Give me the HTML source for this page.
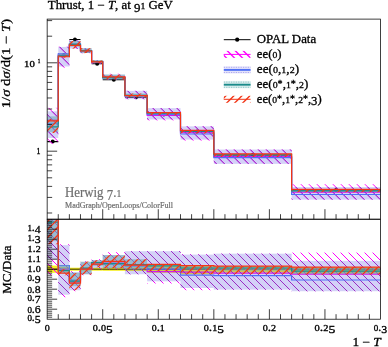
<!DOCTYPE html>
<html><head><meta charset="utf-8"><title>Thrust</title>
<style>html,body{margin:0;padding:0;background:#fff}svg{display:block}</style>
</head><body>
<svg width="388" height="347" viewBox="0 0 388 347">
<defs>
<clipPath id="cm"><rect x="47.15" y="19.1" width="333.35" height="200.1"/></clipPath>
<clipPath id="cr"><rect x="47.15" y="219.2" width="333.35" height="100"/></clipPath>
<pattern id="hmM" patternUnits="userSpaceOnUse" x="0" y="0" width="8" height="8"><path d="M-13.3 -2 L-1.3 10 M-5.3 -2 L6.7 10 M2.7 -2 L14.7 10 M10.7 -2 L22.7 10 M18.7 -2 L30.7 10" stroke="#ff00ff" stroke-width="1.0" fill="none"/></pattern>
<pattern id="hpM" patternUnits="userSpaceOnUse" x="0" y="0" width="8" height="8"><path d="M-13.3 -2 L-1.3 10 M-5.3 -2 L6.7 10 M2.7 -2 L14.7 10 M10.7 -2 L22.7 10 M18.7 -2 L30.7 10" stroke="#9a2ec2" stroke-width="1.0" fill="none"/></pattern>
<pattern id="hpR" patternUnits="userSpaceOnUse" x="0" y="0" width="8" height="8"><path d="M-18 -2 L-6 10 M-10 -2 L2 10 M-2 -2 L10 10 M6 -2 L18 10 M14 -2 L26 10" stroke="#9a2ec2" stroke-width="1.0" fill="none"/></pattern>
<pattern id="hmR" patternUnits="userSpaceOnUse" x="0" y="0" width="8" height="8"><path d="M-18 -2 L-6 10 M-10 -2 L2 10 M-2 -2 L10 10 M6 -2 L18 10 M14 -2 L26 10" stroke="#ff00ff" stroke-width="1.0" fill="none"/></pattern>
<pattern id="hmL" patternUnits="userSpaceOnUse" x="0" y="0" width="8" height="8"><path d="M-17.5 -2 L-5.5 10 M-9.5 -2 L2.5 10 M-1.5 -2 L10.5 10 M6.5 -2 L18.5 10 M14.5 -2 L26.5 10" stroke="#ff00ff" stroke-width="1.4" fill="none"/></pattern>
<pattern id="hrM" patternUnits="userSpaceOnUse" x="0" y="0" width="8" height="8"><path d="M-4 -2 L-16 10 M4 -2 L-8 10 M12 -2 L0 10 M20 -2 L8 10 M28 -2 L16 10" stroke="#f23618" stroke-width="1.25" fill="none"/></pattern>
<pattern id="hrR" patternUnits="userSpaceOnUse" x="0" y="0" width="8" height="8"><path d="M-1 -2 L-13 10 M7 -2 L-5 10 M15 -2 L3 10 M23 -2 L11 10 M31 -2 L19 10" stroke="#f23618" stroke-width="1.25" fill="none"/></pattern>
<pattern id="hrL" patternUnits="userSpaceOnUse" x="0" y="0" width="8" height="8"><path d="M-4.35 -2 L-16.35 10 M3.65 -2 L-8.35 10 M11.65 -2 L-0.35 10 M19.65 -2 L7.65 10 M27.65 -2 L15.65 10" stroke="#f23618" stroke-width="1.4" fill="none"/></pattern>
<filter id="soft" x="0" y="0" width="388" height="347" filterUnits="userSpaceOnUse"><feGaussianBlur stdDeviation="0.35"/></filter>
</defs>
<rect width="388" height="347" fill="#fff"/>
<g filter="url(#soft)">
<g clip-path="url(#cm)"><path d="M47.15 141.6 H58.26" stroke="#000" stroke-width="1.1"/><circle cx="52.71" cy="141.6" r="2"/><path d="M58.26 55.2 H69.37" stroke="#000" stroke-width="1.1"/><circle cx="63.82" cy="55.2" r="2"/><path d="M69.37 39.5 H80.48" stroke="#000" stroke-width="1.1"/><circle cx="74.93" cy="39.5" r="2"/><path d="M80.48 51 H91.6" stroke="#000" stroke-width="1.1"/><circle cx="86.04" cy="51" r="2"/><path d="M91.6 63.8 H102.71" stroke="#000" stroke-width="1.1"/><circle cx="97.15" cy="63.8" r="2"/><path d="M102.71 79.7 H124.93" stroke="#000" stroke-width="1.1"/><circle cx="113.82" cy="79.7" r="2"/><path d="M124.93 97.2 H147.16" stroke="#000" stroke-width="1.1"/><circle cx="136.04" cy="97.2" r="2"/><path d="M147.16 114.5 H180.49" stroke="#000" stroke-width="1.1"/><circle cx="163.82" cy="114.5" r="2"/><path d="M180.49 131.6 H213.83" stroke="#000" stroke-width="1.1"/><circle cx="197.16" cy="131.6" r="2"/><path d="M213.83 155.1 H291.61" stroke="#000" stroke-width="1.1"/><circle cx="252.72" cy="155.1" r="2"/><path d="M291.61 190.1 H380.5" stroke="#000" stroke-width="1.1"/><circle cx="336.05" cy="190.1" r="2"/></g>
<g fill="url(#hmM)" clip-path="url(#cm)"><rect x="47.15" y="107.83" width="11.11" height="36.15"/><rect x="58.26" y="46.63" width="11.11" height="21.18"/><rect x="69.37" y="40.28" width="11.11" height="8.76"/><rect x="80.48" y="48.05" width="11.11" height="5.33"/><rect x="91.6" y="60.14" width="11.11" height="3.66"/><rect x="102.71" y="73.67" width="22.22" height="6.03"/><rect x="124.93" y="90.85" width="22.22" height="8.32"/><rect x="147.16" y="108.15" width="33.34" height="12.28"/><rect x="180.49" y="126.23" width="33.34" height="14.42"/><rect x="213.83" y="149.57" width="77.78" height="14.34"/><rect x="291.61" y="184.2" width="88.89" height="15.43"/></g>
<path d="M47.15 120.12 L58.26 120.12 L58.26 55.2 L69.37 55.2 L69.37 44.85 L80.48 44.85 L80.48 51 L91.6 51 L91.6 61.93 L102.71 61.93 L102.71 77.1 L124.93 77.1 L124.93 95.69 L147.16 95.69 L147.16 115.43 L180.49 115.43 L180.49 132.77 L213.83 132.77 L213.83 156.67 L291.61 156.67 L291.61 192.07 L380.5 192.07" fill="none" stroke="#ff00ff" stroke-width="1.2" stroke-linejoin="miter" clip-path="url(#cm)"/>
<g fill="rgba(95,85,225,0.27)" clip-path="url(#cm)"><rect x="47.15" y="111.33" width="11.11" height="26.61"/><rect x="58.26" y="46.94" width="11.11" height="19.56"/><rect x="69.37" y="40.67" width="11.11" height="7.88"/><rect x="80.48" y="48.4" width="11.11" height="4.57"/><rect x="91.6" y="60.49" width="11.11" height="2.93"/><rect x="102.71" y="74.67" width="22.22" height="4.65"/><rect x="124.93" y="90.85" width="22.22" height="8.32"/><rect x="147.16" y="108.15" width="33.34" height="11.31"/><rect x="180.49" y="126.37" width="33.34" height="13.23"/><rect x="213.83" y="149.57" width="77.78" height="14.29"/><rect x="291.61" y="187.04" width="88.89" height="12.6"/></g>
<g fill="url(#hpM)" clip-path="url(#cm)"><rect x="47.15" y="111.33" width="11.11" height="26.61"/><rect x="58.26" y="46.94" width="11.11" height="19.56"/><rect x="69.37" y="40.67" width="11.11" height="7.88"/><rect x="80.48" y="48.4" width="11.11" height="4.57"/><rect x="91.6" y="60.49" width="11.11" height="2.93"/><rect x="102.71" y="74.67" width="22.22" height="4.65"/><rect x="124.93" y="90.85" width="22.22" height="8.32"/><rect x="147.16" y="108.15" width="33.34" height="11.31"/><rect x="180.49" y="126.37" width="33.34" height="13.23"/><rect x="213.83" y="149.57" width="77.78" height="14.29"/><rect x="291.61" y="187.04" width="88.89" height="12.6"/></g>
<path d="M47.15 123.32 L58.26 123.32 L58.26 53.88 L69.37 53.88 L69.37 43.97 L80.48 43.97 L80.48 51 L91.6 51 L91.6 61.93 L102.71 61.93 L102.71 77.83 L124.93 77.83 L124.93 96.07 L147.16 96.07 L147.16 114.5 L180.49 114.5 L180.49 133.98 L213.83 133.98 L213.83 157.64 L291.61 157.64 L291.61 194.49 L380.5 194.49" fill="none" stroke="#5070f5" stroke-width="1.2" stroke-linejoin="miter" clip-path="url(#cm)"/>
<g fill="rgba(112,170,182,0.58)" clip-path="url(#cm)"><rect x="47.15" y="116.36" width="11.11" height="15.77"/><rect x="58.26" y="53.69" width="11.11" height="3.07"/><rect x="69.37" y="40.87" width="11.11" height="5.79"/><rect x="80.48" y="48.22" width="11.11" height="4.75"/><rect x="91.6" y="60.49" width="11.11" height="2.17"/><rect x="102.71" y="74.6" width="22.22" height="4.72"/><rect x="124.93" y="93.54" width="22.22" height="3.66"/><rect x="147.16" y="112.81" width="33.34" height="1.38"/><rect x="180.49" y="130.28" width="33.34" height="1.51"/><rect x="213.83" y="153.97" width="77.78" height="1.72"/><rect x="291.61" y="189.72" width="88.89" height="2.15"/></g>
<path d="M47.15 126.81 L58.26 126.81 L58.26 55.78 L69.37 55.78 L69.37 44.41 L80.48 44.41 L80.48 50.62 L91.6 50.62 L91.6 61.31 L102.71 61.31 L102.71 77.64 L124.93 77.64 L124.93 95.44 L147.16 95.44 L147.16 113.25 L180.49 113.25 L180.49 131.14 L213.83 131.14 L213.83 154.64 L291.61 154.64 L291.61 190.88 L380.5 190.88" fill="none" stroke="#1e8c8c" stroke-width="1.2" stroke-linejoin="miter" clip-path="url(#cm)"/>
<g fill="url(#hrM)" clip-path="url(#cm)"><rect x="47.15" y="119.03" width="11.11" height="14"/><rect x="58.26" y="55.2" width="11.11" height="2.38"/><rect x="69.37" y="41.07" width="11.11" height="7.48"/><rect x="80.48" y="48.19" width="11.11" height="4.94"/><rect x="91.6" y="60.49" width="11.11" height="2.55"/><rect x="102.71" y="74.67" width="22.22" height="4.65"/><rect x="124.93" y="93.54" width="22.22" height="3.66"/><rect x="147.16" y="112.63" width="33.34" height="2.65"/><rect x="180.49" y="130.24" width="33.34" height="3.33"/><rect x="213.83" y="153.93" width="77.78" height="3.14"/><rect x="291.61" y="189.3" width="88.89" height="2.93"/></g>
<path d="M47.15 120.78 L58.26 120.78 L58.26 56.77 L69.37 56.77 L69.37 45.29 L80.48 45.29 L80.48 51 L91.6 51 L91.6 61.93 L102.71 61.93 L102.71 76.82 L124.93 76.82 L124.93 95.69 L147.16 95.69 L147.16 112.66 L180.49 112.66 L180.49 130.28 L213.83 130.28 L213.83 153.93 L291.61 153.93 L291.61 189.3 L380.5 189.3" fill="none" stroke="#f23618" stroke-width="1.2" stroke-linejoin="miter" clip-path="url(#cm)"/>
<g fill="#f7ee20" clip-path="url(#cr)"><rect x="47.15" y="265.6" width="11.11" height="7.2"/><rect x="58.26" y="267" width="11.11" height="4.4"/><rect x="69.37" y="267.7" width="11.11" height="3"/><rect x="80.48" y="267.7" width="11.11" height="3"/><rect x="91.6" y="267.7" width="11.11" height="3"/><rect x="102.71" y="267.6" width="22.22" height="3.2"/><rect x="124.93" y="267.4" width="22.22" height="3.6"/><rect x="147.16" y="265.6" width="33.34" height="7.2"/><rect x="180.49" y="265.6" width="33.34" height="8.6"/><rect x="213.83" y="266.1" width="77.78" height="6.6"/><rect x="291.61" y="267.1" width="88.89" height="6.6"/></g>
<path d="M47.15 269.2 H380.5" stroke="#000" stroke-width="0.8"/>
<g fill="url(#hmR)" clip-path="url(#cr)"><rect x="47.15" y="128.2" width="11.11" height="147"/><rect x="58.26" y="244.2" width="11.11" height="53"/><rect x="69.37" y="271.2" width="11.11" height="20"/><rect x="80.48" y="261.2" width="11.11" height="14"/><rect x="91.6" y="259.2" width="11.11" height="10"/><rect x="102.71" y="252.2" width="22.22" height="17"/><rect x="124.93" y="251.2" width="22.22" height="23"/><rect x="147.16" y="251.2" width="33.34" height="32.3"/><rect x="180.49" y="254.2" width="33.34" height="36"/><rect x="213.83" y="253.7" width="77.78" height="36"/><rect x="291.61" y="252.6" width="88.89" height="38.6"/></g>
<path d="M47.15 214.2 L58.26 214.2 L58.26 269.2 L69.37 269.2 L69.37 282.2 L80.48 282.2 L80.48 269.2 L91.6 269.2 L91.6 264.2 L102.71 264.2 L102.71 262.2 L124.93 262.2 L124.93 265.2 L147.16 265.2 L147.16 271.6 L180.49 271.6 L180.49 272.2 L213.83 272.2 L213.83 273.2 L291.61 273.2 L291.61 274.2 L380.5 274.2" fill="none" stroke="#ff00ff" stroke-width="1.2" stroke-linejoin="miter" clip-path="url(#cr)"/>
<g fill="rgba(95,85,225,0.27)" clip-path="url(#cr)"><rect x="47.15" y="149.2" width="11.11" height="110"/><rect x="58.26" y="245.2" width="11.11" height="49.5"/><rect x="69.37" y="272.2" width="11.11" height="18"/><rect x="80.48" y="262.2" width="11.11" height="12"/><rect x="91.6" y="260.2" width="11.11" height="8"/><rect x="102.71" y="255.2" width="22.22" height="13"/><rect x="124.93" y="251.2" width="22.22" height="23"/><rect x="147.16" y="251.2" width="33.34" height="30.1"/><rect x="180.49" y="254.6" width="33.34" height="33.4"/><rect x="213.83" y="253.7" width="77.78" height="35.9"/><rect x="291.61" y="260.9" width="88.89" height="30.3"/></g>
<g fill="url(#hpR)" clip-path="url(#cr)"><rect x="47.15" y="149.2" width="11.11" height="110"/><rect x="58.26" y="245.2" width="11.11" height="49.5"/><rect x="69.37" y="272.2" width="11.11" height="18"/><rect x="80.48" y="262.2" width="11.11" height="12"/><rect x="91.6" y="260.2" width="11.11" height="8"/><rect x="102.71" y="255.2" width="22.22" height="13"/><rect x="124.93" y="251.2" width="22.22" height="23"/><rect x="147.16" y="251.2" width="33.34" height="30.1"/><rect x="180.49" y="254.6" width="33.34" height="33.4"/><rect x="213.83" y="253.7" width="77.78" height="35.9"/><rect x="291.61" y="260.9" width="88.89" height="30.3"/></g>
<path d="M47.15 214.2 L58.26 214.2 L58.26 265.7 L69.37 265.7 L69.37 280.2 L80.48 280.2 L80.48 269.2 L91.6 269.2 L91.6 264.2 L102.71 264.2 L102.71 264.2 L124.93 264.2 L124.93 266.2 L147.16 266.2 L147.16 269.2 L180.49 269.2 L180.49 275.2 L213.83 275.2 L213.83 275.6 L291.61 275.6 L291.61 280 L380.5 280" fill="none" stroke="#5070f5" stroke-width="1.2" stroke-linejoin="miter" clip-path="url(#cr)"/>
<g fill="rgba(112,170,182,0.58)" clip-path="url(#cr)"><rect x="47.15" y="176.2" width="11.11" height="65"/><rect x="58.26" y="265.2" width="11.11" height="8"/><rect x="69.37" y="272.7" width="11.11" height="13.5"/><rect x="80.48" y="261.7" width="11.11" height="12.5"/><rect x="91.6" y="260.2" width="11.11" height="6"/><rect x="102.71" y="255" width="22.22" height="13.2"/><rect x="124.93" y="259.2" width="22.22" height="10"/><rect x="147.16" y="264.7" width="33.34" height="3.7"/><rect x="180.49" y="265.7" width="33.34" height="4"/><rect x="213.83" y="266.2" width="77.78" height="4.5"/><rect x="291.61" y="268.2" width="88.89" height="5.5"/></g>
<path d="M47.15 222.2 L58.26 222.2 L58.26 270.7 L69.37 270.7 L69.37 281.2 L80.48 281.2 L80.48 268.2 L91.6 268.2 L91.6 262.5 L102.71 262.5 L102.71 263.7 L124.93 263.7 L124.93 264.5 L147.16 264.5 L147.16 265.9 L180.49 265.9 L180.49 268 L213.83 268 L213.83 268 L291.61 268 L291.61 271.2 L380.5 271.2" fill="none" stroke="#1e8c8c" stroke-width="1.2" stroke-linejoin="miter" clip-path="url(#cr)"/>
<g fill="url(#hrR)" clip-path="url(#cr)"><rect x="47.15" y="189.2" width="11.11" height="55"/><rect x="58.26" y="269.2" width="11.11" height="6"/><rect x="69.37" y="273.2" width="11.11" height="17"/><rect x="80.48" y="261.6" width="11.11" height="13"/><rect x="91.6" y="260.2" width="11.11" height="7"/><rect x="102.71" y="255.2" width="22.22" height="13"/><rect x="124.93" y="259.2" width="22.22" height="10"/><rect x="147.16" y="264.2" width="33.34" height="7"/><rect x="180.49" y="265.6" width="33.34" height="8.6"/><rect x="213.83" y="266.1" width="77.78" height="8.1"/><rect x="291.61" y="267.1" width="88.89" height="7.5"/></g>
<path d="M47.15 214.2 L58.26 214.2 L58.26 273.2 L69.37 273.2 L69.37 283.2 L80.48 283.2 L80.48 269.2 L91.6 269.2 L91.6 264.2 L102.71 264.2 L102.71 261.4 L124.93 261.4 L124.93 265.2 L147.16 265.2 L147.16 264.3 L180.49 264.3 L180.49 265.7 L213.83 265.7 L213.83 266.1 L291.61 266.1 L291.61 267.1 L380.5 267.1" fill="none" stroke="#f23618" stroke-width="1.2" stroke-linejoin="miter" clip-path="url(#cr)"/>
<path d="M58.26 219.2 v-5 M58.26 319.2 v-5 M69.37 219.2 v-5 M69.37 319.2 v-5 M80.48 219.2 v-5 M80.48 319.2 v-5 M91.6 219.2 v-5 M91.6 319.2 v-5 M102.71 219.2 v-10 M102.71 319.2 v-10 M113.82 219.2 v-5 M113.82 319.2 v-5 M124.93 219.2 v-5 M124.93 319.2 v-5 M136.04 219.2 v-5 M136.04 319.2 v-5 M147.16 219.2 v-5 M147.16 319.2 v-5 M158.27 219.2 v-10 M158.27 319.2 v-10 M169.38 219.2 v-5 M169.38 319.2 v-5 M180.49 219.2 v-5 M180.49 319.2 v-5 M191.6 219.2 v-5 M191.6 319.2 v-5 M202.71 219.2 v-5 M202.71 319.2 v-5 M213.83 219.2 v-10 M213.83 319.2 v-10 M224.94 219.2 v-5 M224.94 319.2 v-5 M236.05 219.2 v-5 M236.05 319.2 v-5 M247.16 219.2 v-5 M247.16 319.2 v-5 M258.27 219.2 v-5 M258.27 319.2 v-5 M269.38 219.2 v-10 M269.38 319.2 v-10 M280.5 219.2 v-5 M280.5 319.2 v-5 M291.61 219.2 v-5 M291.61 319.2 v-5 M302.72 219.2 v-5 M302.72 319.2 v-5 M313.83 219.2 v-5 M313.83 319.2 v-5 M324.94 219.2 v-10 M324.94 319.2 v-10 M336.05 219.2 v-5 M336.05 319.2 v-5 M347.17 219.2 v-5 M347.17 319.2 v-5 M358.28 219.2 v-5 M358.28 319.2 v-5 M369.39 219.2 v-5 M369.39 319.2 v-5 M47.15 212.99 h5 M47.15 197.42 h5 M47.15 186.38 h5 M47.15 177.81 h5 M47.15 170.81 h5 M47.15 164.89 h5 M47.15 159.77 h5 M47.15 155.24 h5 M47.15 151.2 h10 M47.15 124.59 h5 M47.15 109.02 h5 M47.15 97.98 h5 M47.15 89.41 h5 M47.15 82.41 h5 M47.15 76.49 h5 M47.15 71.37 h5 M47.15 66.84 h5 M47.15 62.8 h10 M47.15 36.19 h5 M47.15 20.62 h5 M47.15 317.2 h5 M47.15 315.2 h5 M47.15 313.2 h5 M47.15 311.2 h5 M47.15 309.2 h10 M47.15 307.2 h5 M47.15 305.2 h5 M47.15 303.2 h5 M47.15 301.2 h5 M47.15 299.2 h10 M47.15 297.2 h5 M47.15 295.2 h5 M47.15 293.2 h5 M47.15 291.2 h5 M47.15 289.2 h10 M47.15 287.2 h5 M47.15 285.2 h5 M47.15 283.2 h5 M47.15 281.2 h5 M47.15 279.2 h10 M47.15 277.2 h5 M47.15 275.2 h5 M47.15 273.2 h5 M47.15 271.2 h5 M47.15 269.2 h10 M47.15 267.2 h5 M47.15 265.2 h5 M47.15 263.2 h5 M47.15 261.2 h5 M47.15 259.2 h10 M47.15 257.2 h5 M47.15 255.2 h5 M47.15 253.2 h5 M47.15 251.2 h5 M47.15 249.2 h10 M47.15 247.2 h5 M47.15 245.2 h5 M47.15 243.2 h5 M47.15 241.2 h5 M47.15 239.2 h10 M47.15 237.2 h5 M47.15 235.2 h5 M47.15 233.2 h5 M47.15 231.2 h5 M47.15 229.2 h10 M47.15 227.2 h5 M47.15 225.2 h5 M47.15 223.2 h5 M47.15 221.2 h5" stroke="#000" stroke-width="0.75" fill="none"/>
<rect x="47.15" y="19.1" width="333.35" height="200.1" fill="none" stroke="#000" stroke-width="0.75"/>
<rect x="47.15" y="219.2" width="333.35" height="100" fill="none" stroke="#000" stroke-width="0.75"/>
<path d="M223.8 39.7 H250.6" stroke="#000" stroke-width="1.0"/>
<circle cx="237.2" cy="39.7" r="2.1"/>
<rect x="223.8" y="50.9" width="26.8" height="7" fill="url(#hmL)"/>
<path d="M223.8 54.4 H250.6" stroke="#ff00ff" stroke-width="1.0"/>
<rect x="223.8" y="66.4" width="26.8" height="7" fill="rgba(95,85,225,0.17)"/>
<path d="M223.8 67.3 H250.6 M223.8 72.5 H250.6" stroke="rgba(95,85,225,0.40)" stroke-width="1" stroke-dasharray="1.2 1.2"/>
<path d="M223.8 69.9 H250.6" stroke="#5070f5" stroke-width="1.9"/>
<rect x="223.8" y="81.2" width="26.8" height="7" fill="rgba(30,140,140,0.15)"/>
<path d="M223.8 82.1 H250.6 M223.8 87.3 H250.6" stroke="rgba(30,140,140,0.40)" stroke-width="1" stroke-dasharray="1.2 1.2"/>
<path d="M223.8 84.7 H250.6" stroke="#1e8c8c" stroke-width="1.9"/>
<rect x="223.8" y="95.8" width="26.8" height="7" fill="url(#hrL)"/>
<path d="M223.8 99.3 H250.6" stroke="#f23618" stroke-width="1.0"/>
<g font-family='"Liberation Serif", serif' fill="#000" stroke="#000" stroke-width="0.3">
<text x="256.8" y="43.2" font-size="12.0" textLength="59.3" lengthAdjust="spacingAndGlyphs">OPAL Data</text>
<text x="256.8" y="57.9" font-size="12.0" textLength="24.7" lengthAdjust="spacingAndGlyphs">ee(<tspan font-size="9.12">0</tspan>)</text>
<text x="256.8" y="73.4" font-size="12.0" textLength="42.3" lengthAdjust="spacingAndGlyphs">ee(<tspan font-size="9.12">0</tspan>,<tspan font-size="9.12">1</tspan>,<tspan font-size="9.12">2</tspan>)</text>
<text x="256.8" y="88.2" font-size="12.0" textLength="51.6" lengthAdjust="spacingAndGlyphs">ee(<tspan font-size="9.12">0</tspan><tspan font-size="9.36" dy="-1.2">*</tspan><tspan dy="1.2">,</tspan><tspan font-size="9.12">1</tspan><tspan font-size="9.36" dy="-1.2">*</tspan><tspan dy="1.2">,</tspan><tspan font-size="9.12">2</tspan>)</text>
<text x="256.8" y="102.8" font-size="12.0" textLength="64.9" lengthAdjust="spacingAndGlyphs">ee(<tspan font-size="9.12">0</tspan><tspan font-size="9.36" dy="-1.2">*</tspan><tspan dy="1.2">,</tspan><tspan font-size="9.12">1</tspan><tspan font-size="9.36" dy="-1.2">*</tspan><tspan dy="1.2">,</tspan><tspan font-size="9.12">2</tspan><tspan font-size="9.36" dy="-1.2">*</tspan><tspan dy="1.2">,</tspan><tspan font-size="12" dy="2.64">3</tspan><tspan dy="-2.64">)</tspan></text>
<text x="47.8" y="9.3" font-size="12.0" textLength="125" lengthAdjust="spacingAndGlyphs">Thrust, 1 − <tspan font-style="italic">T</tspan>, at <tspan font-size="12" dy="2.64">9</tspan><tspan font-size="9.12" dy="-2.64">1</tspan> GeV</text>
<text x="352.4" y="346.4" font-size="12.0" textLength="28.4" lengthAdjust="spacingAndGlyphs">1 − <tspan font-style="italic">T</tspan></text>
<text transform="translate(10.3 108.3) rotate(-90)" font-size="12" textLength="89.4" lengthAdjust="spacingAndGlyphs">1/<tspan font-style="italic">σ</tspan> d<tspan font-style="italic">σ</tspan>/d(1 − <tspan font-style="italic">T</tspan>)</text>
<text transform="translate(11.0 293.8) rotate(-90)" font-size="12" textLength="48.4" lengthAdjust="spacingAndGlyphs">MC/Data</text>
<g stroke-width="0.32">
<text x="44.65" y="331" font-size="11.0" textLength="5" lengthAdjust="spacingAndGlyphs"><tspan font-size="8.36">0</tspan></text>
<text x="92.71" y="331" font-size="11.0" textLength="20" lengthAdjust="spacingAndGlyphs"><tspan font-size="8.36">0</tspan>.<tspan font-size="8.36">0</tspan><tspan font-size="11" dy="2.42">5</tspan></text>
<text x="151.77" y="331" font-size="11.0" textLength="13" lengthAdjust="spacingAndGlyphs"><tspan font-size="8.36">0</tspan>.<tspan font-size="8.36">1</tspan></text>
<text x="203.83" y="331" font-size="11.0" textLength="20" lengthAdjust="spacingAndGlyphs"><tspan font-size="8.36">0</tspan>.<tspan font-size="8.36">1</tspan><tspan font-size="11" dy="2.42">5</tspan></text>
<text x="262.68" y="331" font-size="11.0" textLength="13.4" lengthAdjust="spacingAndGlyphs"><tspan font-size="8.36">0</tspan>.<tspan font-size="8.36">2</tspan></text>
<text x="314.59" y="331" font-size="11.0" textLength="20.7" lengthAdjust="spacingAndGlyphs"><tspan font-size="8.36">0</tspan>.<tspan font-size="8.36">2</tspan><tspan font-size="11" dy="2.42">5</tspan></text>
<text x="373.8" y="331" font-size="11.0" textLength="13.4" lengthAdjust="spacingAndGlyphs"><tspan font-size="8.36">0</tspan>.<tspan font-size="11" dy="2.42">3</tspan></text>
<text x="27.4" y="320.7" font-size="11.0" textLength="13.3" lengthAdjust="spacingAndGlyphs"><tspan font-size="8.36">0</tspan>.<tspan font-size="11" dy="2.42">5</tspan></text>
<text x="27.4" y="313" font-size="11.0" textLength="13.3" lengthAdjust="spacingAndGlyphs"><tspan font-size="8.36">0</tspan>.6</text>
<text x="27.4" y="300.7" font-size="11.0" textLength="13.3" lengthAdjust="spacingAndGlyphs"><tspan font-size="8.36">0</tspan>.<tspan font-size="11" dy="2.42">7</tspan></text>
<text x="27.4" y="293" font-size="11.0" textLength="13.3" lengthAdjust="spacingAndGlyphs"><tspan font-size="8.36">0</tspan>.8</text>
<text x="27.4" y="280.7" font-size="11.0" textLength="13.3" lengthAdjust="spacingAndGlyphs"><tspan font-size="8.36">0</tspan>.<tspan font-size="11" dy="2.42">9</tspan></text>
<text x="27.4" y="271.85" font-size="11.0" textLength="13.3" lengthAdjust="spacingAndGlyphs"><tspan font-size="8.36">1</tspan>.<tspan font-size="8.36">0</tspan></text>
<text x="27.4" y="261.85" font-size="11.0" textLength="13.3" lengthAdjust="spacingAndGlyphs"><tspan font-size="8.36">1</tspan>.<tspan font-size="8.36">1</tspan></text>
<text x="27.4" y="251.85" font-size="11.0" textLength="13.3" lengthAdjust="spacingAndGlyphs"><tspan font-size="8.36">1</tspan>.<tspan font-size="8.36">2</tspan></text>
<text x="27.4" y="240.7" font-size="11.0" textLength="13.3" lengthAdjust="spacingAndGlyphs"><tspan font-size="8.36">1</tspan>.<tspan font-size="11" dy="2.42">3</tspan></text>
<text x="27.4" y="230.7" font-size="11.0" textLength="13.3" lengthAdjust="spacingAndGlyphs"><tspan font-size="8.36">1</tspan>.<tspan font-size="11" dy="2.42">4</tspan></text>
<text x="24.1" y="67.3" font-size="11.0" textLength="10.7" lengthAdjust="spacingAndGlyphs"><tspan font-size="8.36">1</tspan><tspan font-size="8.36">0</tspan></text>
<text x="37.7" y="63.2" font-size="5.6" textLength="2.6" lengthAdjust="spacingAndGlyphs">1</text>
<text x="36.4" y="154" font-size="11.0" textLength="3.9" lengthAdjust="spacingAndGlyphs"><tspan font-size="8.36">1</tspan></text>
</g>
</g>
<g font-family='"Liberation Serif", serif' fill="#6e6e6e" stroke="#6e6e6e" stroke-width="0.2">
<text x="65" y="196.8" font-size="13.6" textLength="56.3" lengthAdjust="spacingAndGlyphs">Herwig <tspan font-size="13.6" dy="2.99">7</tspan><tspan dy="-2.99">.</tspan><tspan font-size="10.34">1</tspan></text>
<text x="65" y="207.8" font-size="8.0" textLength="107.9" lengthAdjust="spacingAndGlyphs">MadGraph/OpenLoops/ColorFull</text>
</g>
</g>
</svg>
</body></html>
